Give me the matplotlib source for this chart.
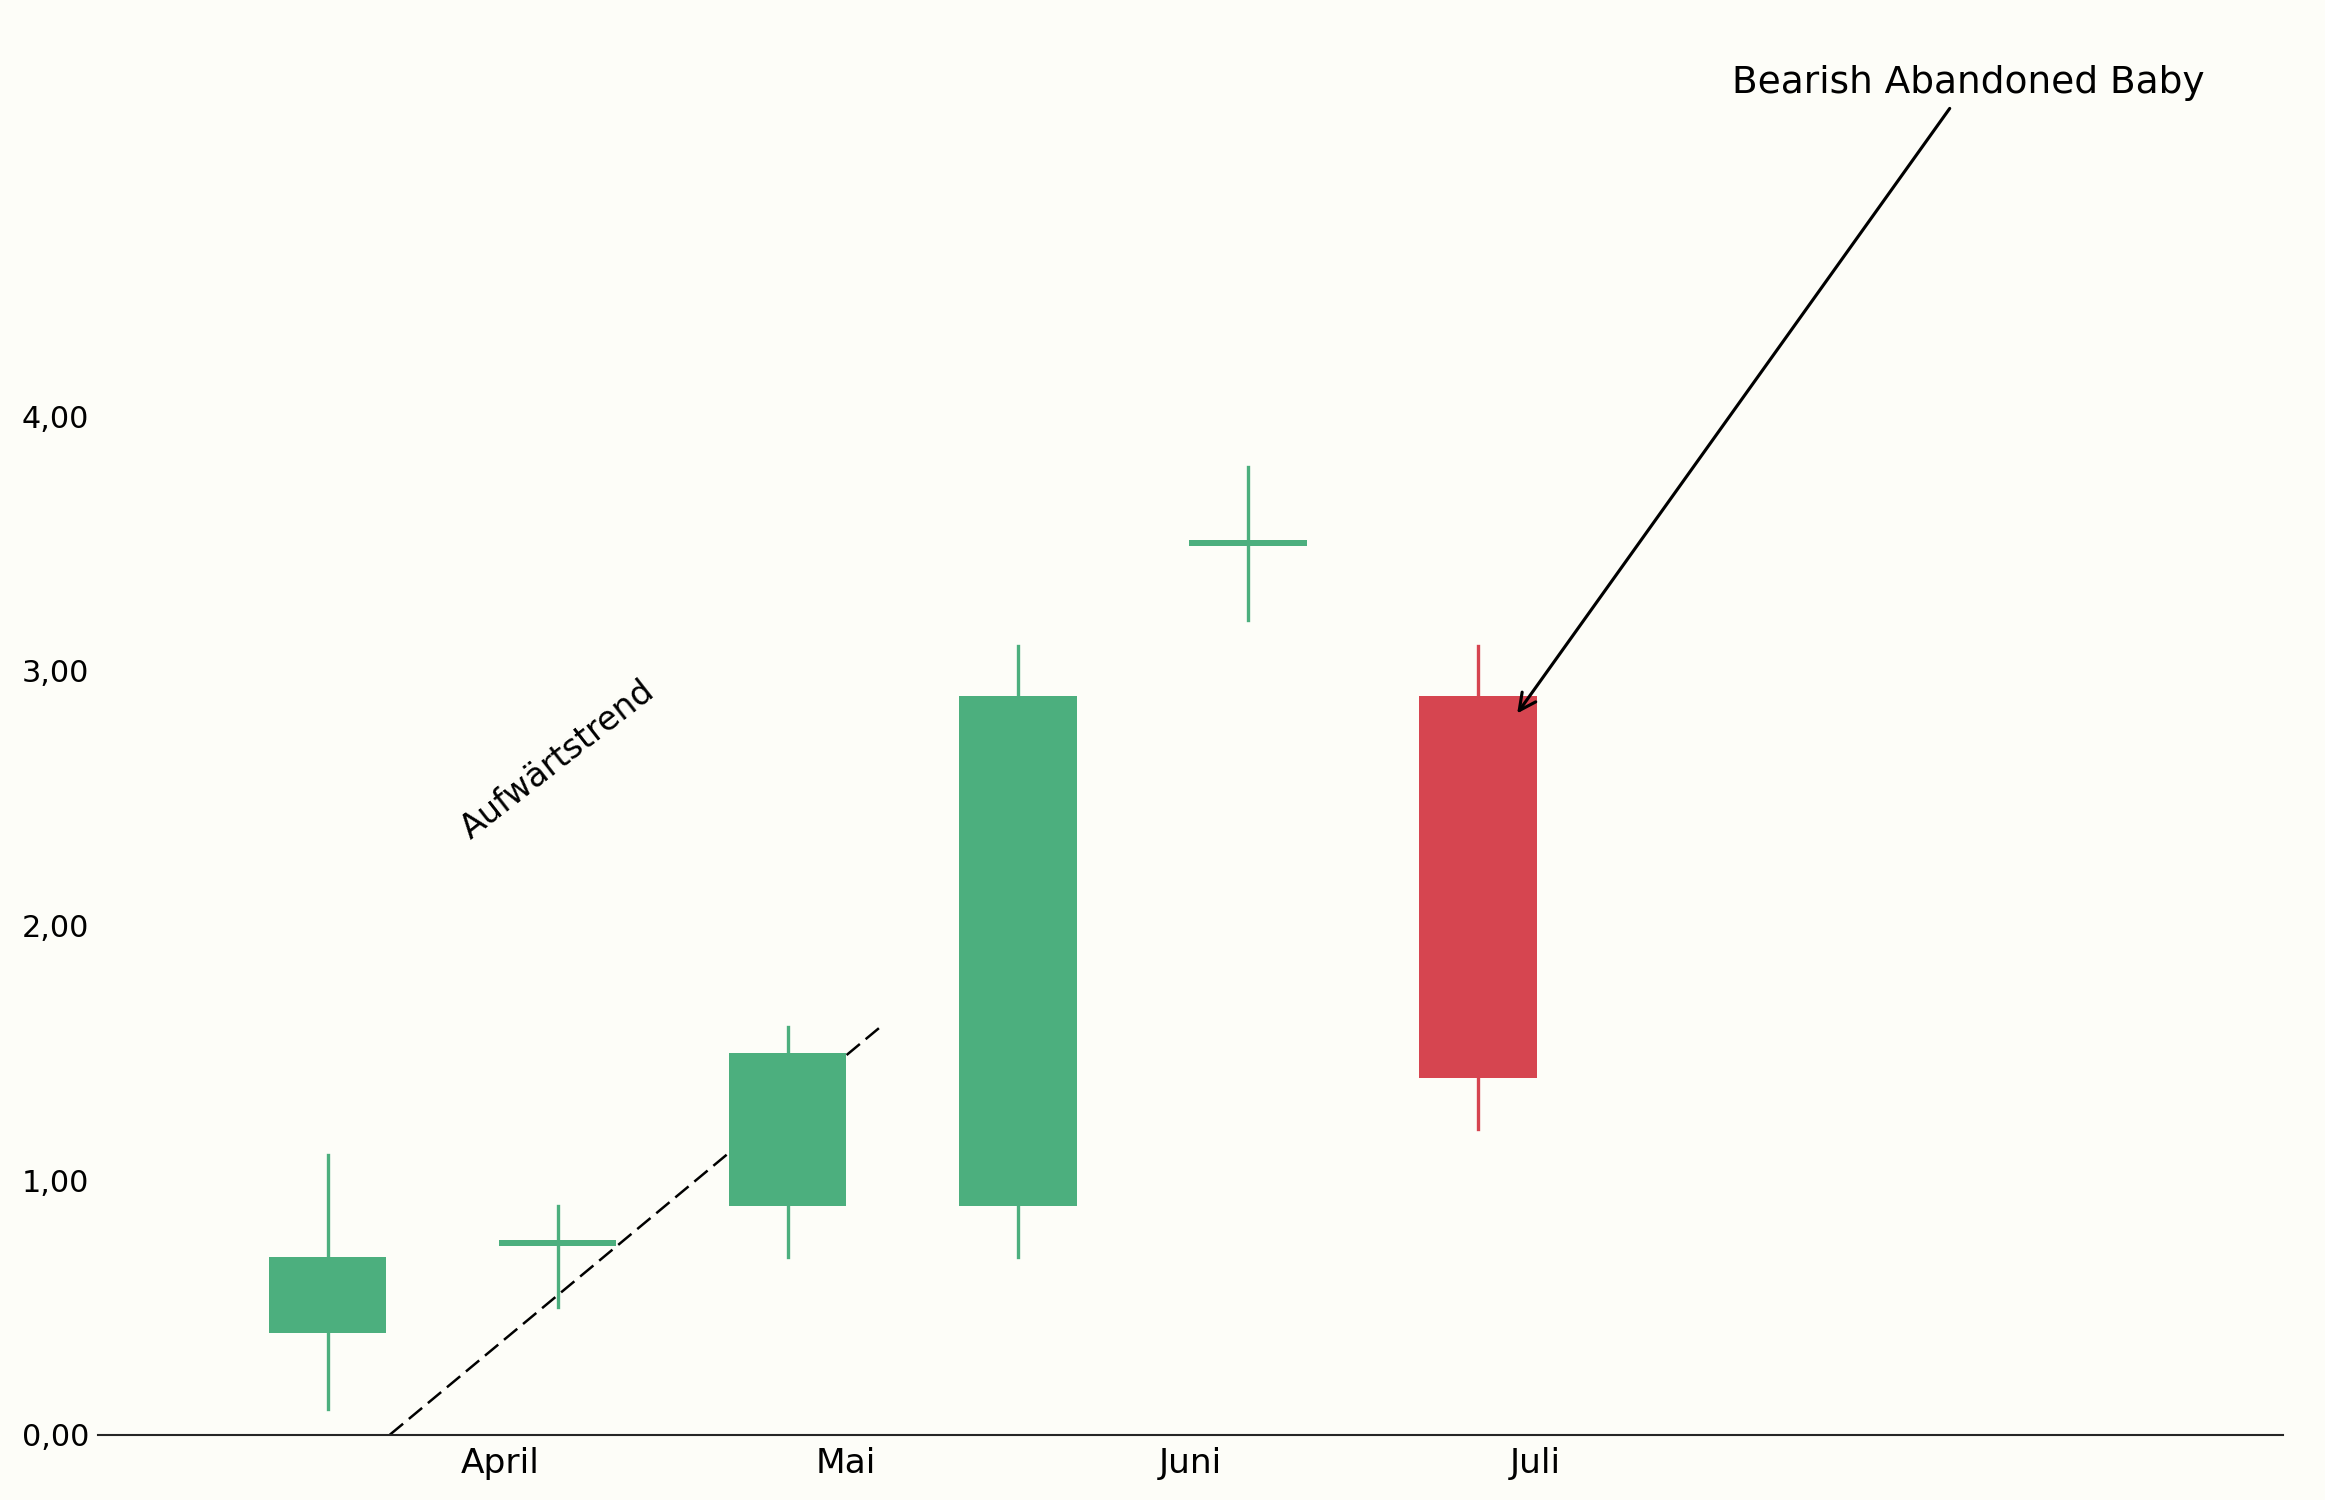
import matplotlib
matplotlib.use('Agg')
import matplotlib.pyplot as plt
from matplotlib.patches import Rectangle
from matplotlib.ticker import FuncFormatter

# Kerzen-Daten
x_pos = [0, 1, 2, 3, 4, 5]
opens = [0.40, 0.74, 0.90, 0.90, 3.49, 2.90]
closes = [0.70, 0.765, 1.50, 2.90, 3.515, 1.40]
highs = [1.10, 0.90, 1.60, 3.10, 3.80, 3.10]
lows = [0.10, 0.50, 0.70, 0.70, 3.20, 1.20]

month_ticks = [0.75, 2.25, 3.75, 5.25]
month_labels = ['April', 'Mai', 'Juni', 'Juli']
y_ticks = [0, 1, 2, 3, 4]

# Trendlinie
trend_x = [0.27, 2.40]
trend_y = [0.0, 1.60]

GREEN = '#4caf7e'
RED = '#d64550'
BG = '#fdfdf8'


def plot_chart():
    fig, ax = plt.subplots(figsize=(15.5, 10), dpi=150)
    fig.patch.set_facecolor(BG)
    ax.set_facecolor(BG)
    fig.subplots_adjust(left=0.042, right=0.982, bottom=0.0435, top=0.977)

    width = 0.51
    for x, o, c, h, l in zip(x_pos, opens, closes, highs, lows):
        col = GREEN if c >= o else RED
        ax.plot([x, x], [l, h], color=col, lw=1.6, zorder=1)
        bottom = min(o, c)
        ax.add_patch(Rectangle((x - width / 2, bottom), width, abs(c - o),
                               facecolor=col, edgecolor='none', zorder=3))

    # Aufwärtstrend
    ax.plot(trend_x, trend_y, color='black', lw=1.2, zorder=2,
            linestyle=(0, (6.9, 3.0)))
    ax.text(1.0, 2.65, 'Aufwärtstrend', rotation=38, fontsize=16,
            ha='center', va='center')

    # Muster-Beschriftung
    ax.annotate('Bearish Abandoned Baby', xy=(5.16, 2.82), xytext=(7.13, 5.31),
                fontsize=18, ha='center', va='center',
                arrowprops=dict(arrowstyle='->', color='black', lw=1.5,
                                mutation_scale=20))

    ax.set_xlim(-1.0, 8.5)
    ax.set_ylim(0, 5.5)
    ax.set_xticks(month_ticks)
    ax.set_xticklabels(month_labels, fontsize=16.5)
    ax.set_yticks(y_ticks)
    ax.yaxis.set_major_formatter(FuncFormatter(lambda v, p: f'{v:.2f}'.replace('.', ',')))
    ax.tick_params(axis='y', length=0, labelsize=14.5, pad=4)
    ax.tick_params(axis='x', length=0, pad=6)

    for side in ['left', 'top', 'right']:
        ax.spines[side].set_visible(False)
    ax.spines['bottom'].set_color('#262626')
    ax.spines['bottom'].set_linewidth(1.0)

    fig.savefig('out.png', dpi=150, facecolor=BG)


if __name__ == '__main__':
    plot_chart()
